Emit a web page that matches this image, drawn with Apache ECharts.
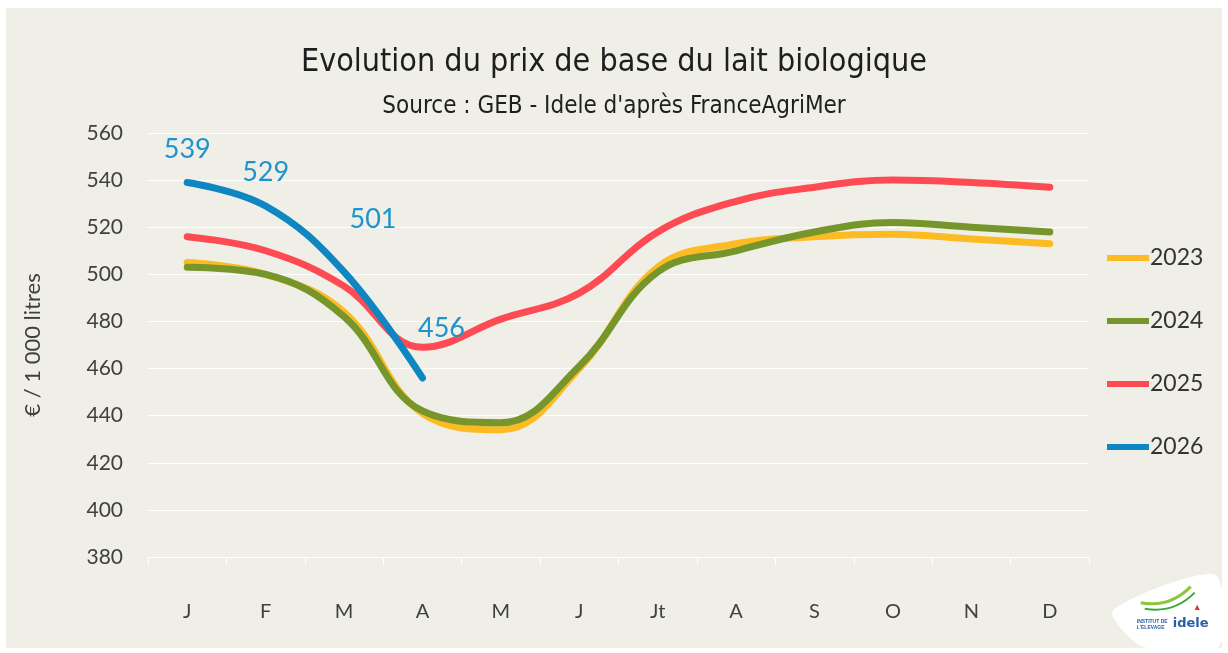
<!DOCTYPE html>
<html>
<head>
<meta charset="utf-8">
<script src="https://cdn.jsdelivr.net/npm/echarts@6/dist/echarts.min.js"></script>
<style>
  html, body { margin: 0; padding: 0; background: #ffffff; }
  #chart { position: absolute; left: 6px; top: 8px; width: 1216px; height: 640px; }
</style>
</head>
<body>
<div id="chart"></div>
<script>
// Months (French initials) and yearly organic milk base prices, €/1000 L
const months = ['J', 'F', 'M', 'A', 'M', 'J', 'Jt', 'A', 'S', 'O', 'N', 'D'];
const years = ['2023', '2024', '2025', '2026'];
const prix2023 = [505, 500, 484, 441, 434, 460, 503, 513, 516, 517, 515, 513];
const prix2024 = [503, 500, 482, 442, 437, 461, 501, 510, 518, 522, 520, 518];
const prix2025 = [516, 510, 495, 469, 481, 492, 518, 531, 537, 540, 539, 537];
const prix2026 = [539, 529, 501, 456];

const colors = ['#fcbb23', '#76962b', '#fd4a53', '#0e86c2'];
const labelColor = '#1f93cb';
// Hand placement of the 2026 value labels (dx, dy from the default "top" spot)
const labelShift = [[0, -14], [0, -15], [29, -34], [19, -31]];

const axisFont = 'Lato, "Open Sans", sans-serif';
const titleFont = '"DejaVu Sans Condensed", "Liberation Sans Narrow", sans-serif';

const chart = echarts.init(document.getElementById('chart'));

function lineSeries(name, values, color, withLabels) {
  return {
    name: name,
    type: 'line',
    smooth: 0.4,
    symbol: 'circle',
    symbolSize: 1,
    showSymbol: withLabels,
    data: values.map((v, i) => withLabels ? {
      value: v,
      label: {
        show: true,
        position: 'top',
        distance: 5,
        offset: labelShift[i],
        color: labelColor,
        fontSize: 27,
        fontFamily: axisFont
      }
    } : v),
    lineStyle: { color: color, width: 7, cap: 'round', join: 'round' },
    itemStyle: { color: withLabels ? 'rgba(0,0,0,0)' : color, borderWidth: 0 },
    emphasis: { disabled: true }
  };
}

chart.setOption({
  backgroundColor: '#efefe7',
  animation: false,
  color: colors,
  title: [
    {
      text: 'Evolution du prix de base du lait biologique',
      left: 'center',
      top: 30,
      textStyle: { fontFamily: titleFont, fontSize: 32, fontWeight: 'normal', color: '#1e1e1e', lineHeight: 40 }
    },
    {
      text: "Source : GEB - Idele d'après FranceAgriMer",
      left: 'center',
      top: 80,
      textStyle: { fontFamily: titleFont, fontSize: 24, fontWeight: 'normal', color: '#1e1e1e', lineHeight: 28 }
    }
  ],
  legend: {
    orient: 'vertical',
    left: 1101,
    top: 238,
    padding: 0,
    itemWidth: 42,
    itemHeight: 6,
    itemGap: 39,
    icon: 'rect',
    data: years.map((y, i) => ({ name: y, itemStyle: { color: colors[i] } })),
    textStyle: { fontFamily: axisFont, fontSize: 23, color: '#333333', lineHeight: 24, padding: [0, 0, 0, -4] }
  },
  grid: { left: 142, top: 125, width: 941, height: 424, containLabel: false },
  xAxis: {
    type: 'category',
    data: months,
    boundaryGap: true,
    axisLine: { show: true, lineStyle: { color: '#ffffff', width: 1 } },
    axisTick: { show: true, length: 8, lineStyle: { color: '#ffffff' } },
    axisLabel: { margin: 45, fontFamily: axisFont, fontSize: 20, color: '#404040' },
    splitLine: { show: false }
  },
  yAxis: {
    type: 'value',
    min: 380,
    max: 560,
    interval: 20,
    name: '€ / 1 000 litres',
    nameLocation: 'middle',
    nameGap: 104,
    nameRotate: 90,
    nameTextStyle: { fontFamily: axisFont, fontSize: 22, color: '#404040' },
    axisLine: { show: false },
    axisTick: { show: false },
    axisLabel: { margin: 25, fontFamily: axisFont, fontSize: 21, color: '#404040' },
    splitLine: { show: true, lineStyle: { color: '#ffffff', width: 1 } }
  },
  series: [
    lineSeries('2023', prix2023, colors[0], false),
    lineSeries('2024', prix2024, colors[1], false),
    lineSeries('2025', prix2025, colors[2], false),
    lineSeries('2026', prix2026, colors[3], true)
  ],
  graphic: [
    {
      type: 'group',
      left: 1106,
      top: 566,
      children: [
        {
          type: 'polygon',
          shape: { points: [[2, 38], [104, 2], [108, 74], [32, 74]], smooth: 0.25 },
          style: { fill: '#ffffff' }
        },
        {
          type: 'bezierCurve',
          shape: { x1: 30, y1: 30, x2: 80, y2: 14, cpx1: 50, cpy1: 34, cpx2: 66, cpy2: 28 },
          style: { stroke: '#8cc63f', lineWidth: 3, fill: null }
        },
        {
          type: 'bezierCurve',
          shape: { x1: 34, y1: 36, x2: 84, y2: 20, cpx1: 56, cpy1: 40, cpx2: 72, cpy2: 32 },
          style: { stroke: '#3aa935', lineWidth: 2, fill: null }
        },
        {
          type: 'text',
          x: 82, y: 30,
          style: { text: '▲', fill: '#e2363b', fontSize: 9 }
        },
        {
          type: 'text',
          x: 26, y: 46,
          style: { text: "INSTITUT DE\nL'ELEVAGE", fill: '#2a5ba8', fontSize: 5, fontWeight: 'bold', lineHeight: 6 }
        },
        {
          type: 'text',
          x: 62, y: 44,
          style: { text: 'idele', fill: '#2a5ba8', fontSize: 13, fontWeight: 'bold', fontFamily: 'DejaVu Sans' }
        }
      ]
    }
  ]
});
</script>
</body>
</html>
